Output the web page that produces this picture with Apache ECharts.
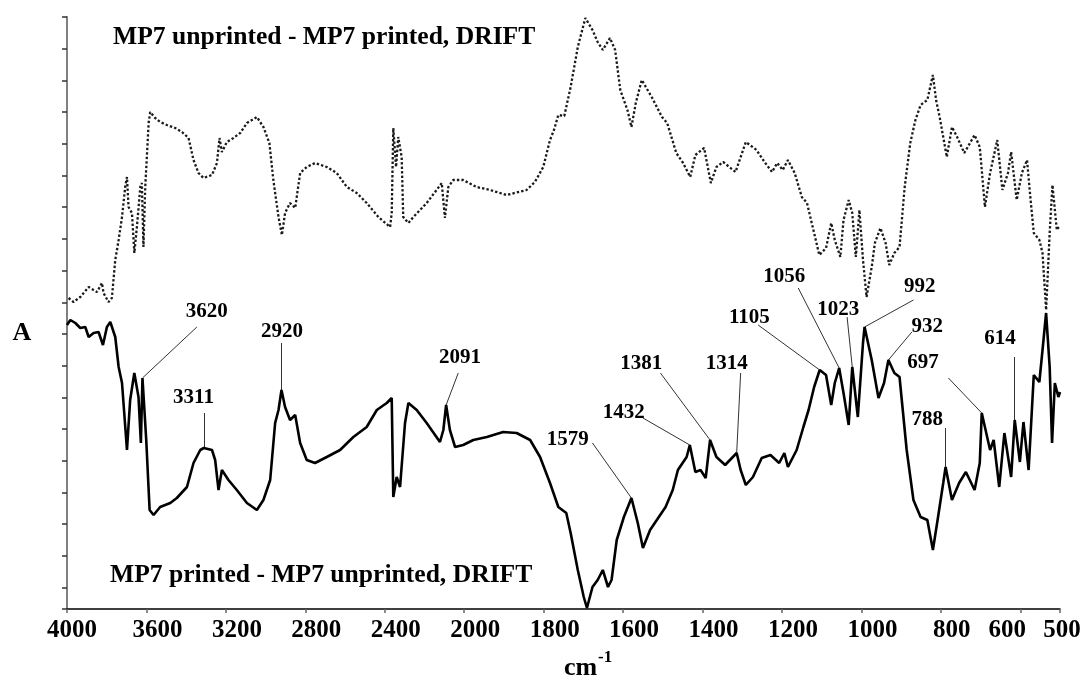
<!DOCTYPE html>
<html>
<head>
<meta charset="utf-8">
<script src="https://cdn.jsdelivr.net/npm/echarts@6/dist/echarts.min.js"></script>
<style>
  html, body { margin: 0; padding: 0; background: #fff; }
  #chart { width: 1085px; height: 678px; }
</style>
</head>
<body>
<div id="chart"></div>
<script>
// DRIFT difference spectra of MP7 (unprinted vs printed), wavenumber in cm-1, absorbance in arbitrary units.

// Upper trace: MP7 unprinted - MP7 printed
const dottedWn = [
  3992,3967,3933,3891,3866,3849,3824,3816,3791,3774,
  3757,3740,3723,3707,3698,3690,3673,3661,3648,3631,
  3623,3615,3606,3589,3581,3556,3531,3497,3455,3421,
  3388,3363,3338,3313,3270,3245,3232,3220,3195,3162,
  3128,3094,3044,3011,2981,2961,2935,2918,2902,2877,
  2851,2826,2793,2751,2692,2642,2591,2541,2491,2432,
  2373,2365,2357,2343,2332,2315,2307,2281,2256,2189,
  2139,2113,2097,2080,2055,2005,1969,1935,1893,1843,
  1822,1801,1784,1774,1763,1748,1732,1714,1695,1677,
  1664,1651,1633,1620,1607,1589,1579,1568,1553,1528,
  1502,1489,1466,1449,1431,1418,1396,1379,1365,1348,
  1317,1291,1264,1242,1225,1212,1198,1185,1168,1150,
  1137,1119,1106,1089,1076,1067,1053,1045,1032,1023,
  1014,1005,996,987,974,966,952,939,930,917,
  904,891,877,864,851,834,820,812,803,785,
  772,759,741,715,702,689,676,658,645,631,
  623,609,596,583,574,566,552,544,535,526,
  519,508,503
];
const dottedAbs = [
  3.11,3.07,3.12,3.22,3.19,3.17,3.26,3.16,3.07,3.11,
  3.49,3.69,3.92,4.22,4.32,4.02,3.96,3.56,3.82,4.22,
  4.26,3.62,4.22,4.86,4.97,4.91,4.87,4.84,4.81,4.77,
  4.71,4.49,4.36,4.31,4.34,4.46,4.71,4.57,4.67,4.71,
  4.76,4.86,4.92,4.82,4.66,4.29,3.92,3.74,3.96,4.06,
  4.01,4.36,4.42,4.46,4.42,4.36,4.22,4.16,4.06,3.92,
  3.82,3.96,4.81,4.42,4.72,4.52,3.92,3.86,3.92,4.06,
  4.19,4.26,3.91,4.22,4.29,4.29,4.22,4.19,4.14,4.19,
  4.27,4.42,4.69,4.79,4.94,4.93,5.22,5.62,5.91,5.79,
  5.67,5.59,5.71,5.59,5.19,4.99,4.82,5.06,5.29,5.12,
  4.92,4.86,4.56,4.46,4.32,4.54,4.61,4.26,4.42,4.47,
  4.37,4.67,4.59,4.46,4.37,4.46,4.39,4.49,4.36,4.12,
  4.06,3.76,3.54,3.61,3.86,3.69,3.52,3.89,4.09,3.96,
  3.52,3.99,3.49,3.12,3.42,3.66,3.81,3.66,3.44,3.56,
  3.62,4.22,4.66,4.89,5.04,5.09,5.34,5.09,4.92,4.52,
  4.82,4.72,4.56,4.74,4.62,4.02,4.36,4.69,4.19,4.36,
  4.57,4.09,4.36,4.49,4.09,3.76,3.69,3.56,2.99,3.76,
  4.24,3.79,3.82
];

// Lower trace: MP7 printed - MP7 unprinted
const solidWn = [
  4000,3983,3958,3933,3908,3891,3866,3841,3819,3799,
  3782,3757,3740,3723,3698,3682,3661,3640,3628,3620,
  3601,3584,3564,3531,3480,3447,3396,3363,3329,3311,
  3270,3254,3237,3220,3187,3145,3094,3044,3011,2977,
  2952,2935,2920,2902,2877,2851,2826,2793,2751,2692,
  2625,2558,2491,2440,2390,2365,2357,2340,2323,2298,
  2281,2239,2189,2122,2105,2091,2072,2046,2005,1977,
  1943,1902,1868,1834,1809,1784,1763,1743,1732,1714,
  1699,1691,1677,1664,1651,1638,1629,1616,1598,1579,
  1563,1550,1532,1510,1493,1475,1462,1440,1432,1418,
  1405,1392,1381,1365,1343,1314,1304,1291,1273,1251,
  1229,1207,1194,1185,1163,1146,1133,1119,1105,1089,
  1076,1067,1056,1045,1032,1023,1009,996,992,974,
  957,943,932,917,904,886,869,851,834,820,
  807,794,788,772,754,737,715,702,697,676,
  667,653,640,623,614,601,592,579,566,552,
  544,535,526,520,513,504,500
];
const solidAbs = [
  2.84,2.89,2.86,2.81,2.82,2.72,2.76,2.77,2.64,2.82,
  2.87,2.72,2.42,2.26,1.59,2.09,2.36,2.12,1.66,2.31,
  1.69,0.99,0.94,1.02,1.06,1.11,1.22,1.46,1.59,1.61,
  1.59,1.49,1.19,1.39,1.29,1.19,1.06,0.99,1.09,1.29,
  1.86,1.99,2.19,2.02,1.89,1.94,1.66,1.49,1.46,1.52,
  1.59,1.72,1.82,1.99,2.06,2.11,1.12,1.32,1.22,1.86,
  2.06,1.99,1.86,1.67,1.79,2.04,1.79,1.62,1.64,1.69,
  1.72,1.77,1.76,1.69,1.52,1.26,1.02,0.96,0.76,0.39,
  0.12,0.01,0.22,0.29,0.39,0.22,0.29,0.69,0.92,1.11,
  0.86,0.61,0.79,0.92,1.02,1.19,1.39,1.52,1.64,1.37,
  1.39,1.31,1.69,1.52,1.44,1.56,1.39,1.24,1.32,1.51,
  1.54,1.46,1.56,1.42,1.59,1.82,1.99,2.22,2.39,2.34,
  2.04,2.26,2.41,2.16,1.84,2.42,1.92,2.66,2.82,2.49,
  2.11,2.26,2.49,2.36,2.32,1.59,1.09,0.92,0.89,0.59,
  0.92,1.26,1.42,1.09,1.26,1.37,1.19,1.46,1.96,1.59,
  1.69,1.22,1.76,1.32,1.89,1.47,1.87,1.39,2.34,2.27,
  2.59,2.96,2.42,1.66,2.26,2.12,2.17
];

// Assigned bands on the lower trace (cm-1)
const peakWn = [3620, 2920, 3311, 2091, 1579, 1432, 1381, 1314, 1105, 1056, 1023, 992, 932, 697, 788, 614];

// Axis tick wavenumbers: 400 cm-1 steps above 2000, 200 cm-1 steps below
const tickLabels = [4000, 3600, 3200, 2800, 2400, 2000, 1800, 1600, 1400, 1200, 1000, 800, 600, 500];

const seriesNames = ['MP7 unprinted - MP7 printed, DRIFT', 'MP7 printed - MP7 unprinted, DRIFT'];

// Where each band label sits: [label wn, label abs, leader start wn, leader start abs]
const labelLayout = [
  [3296, 2.97, 3346, 2.82],
  [2918, 2.77, 2920, 2.66],
  [3363, 2.11, 3311, 1.96],
  [2021, 2.51, 2030, 2.36],
  [1739, 1.69, 1677, 1.66],
  [1598, 1.96, 1550, 1.91],
  [1554, 2.45, 1506, 2.36],
  [1339, 2.45, 1304, 2.36],
  [1282, 2.91, 1260, 2.84],
  [1194, 3.32, 1159, 3.21],
  [1058, 2.99, 1036, 2.92],
  [853, 3.22, 869, 3.09],
  [834, 2.82, 873, 2.77],
  [845, 2.46, 781, 2.31],
  [834, 1.89, 788, 1.81],
  [651, 2.70, 614, 2.52]
];

// Split wavenumber scale: 400 cm-1 per tick step above 2000, 200 cm-1 per step below.
function toAxis(wn) { return wn >= 2000 ? (4000 - wn) / 400 : 5 + (2000 - wn) / 200; }
function toWn(u) { return u <= 5 ? 4000 - 400 * u : 2000 - 200 * (u - 5); }

const dotted = dottedWn.map((w, i) => [toAxis(w), dottedAbs[i]]);
const solid = solidWn.map((w, i) => [toAxis(w), solidAbs[i]]);
function solidAt(w) { return solidAbs[solidWn.indexOf(w)]; }

const leaders = peakWn.map((w, i) => ({
  coords: [[toAxis(labelLayout[i][2]), labelLayout[i][3]], [toAxis(w), solidAt(w)]]
}));
const bandLabels = peakWn.map((w, i) => ({
  name: String(w),
  value: [toAxis(labelLayout[i][0]), labelLayout[i][1]]
}));

const SERIF = "'Liberation Serif', 'Times New Roman', serif";
const tickFont = { fontFamily: SERIF, fontWeight: 'bold', fontSize: 25, color: '#000' };

const chart = echarts.init(document.getElementById('chart'), null, { renderer: 'canvas' });
chart.setOption({
  animation: false,
  backgroundColor: '#fff',
  grid: { left: 67, right: 25, top: 17, bottom: 69, containLabel: false },
  xAxis: {
    type: 'value', min: 0, max: toAxis(tickLabels[tickLabels.length - 1]), interval: 1,
    axisLine: { onZero: false, lineStyle: { color: '#000', width: 1.5 } },
    axisTick: { show: true, length: 4, lineStyle: { color: '#666', width: 1.5 } },
    splitLine: { show: false },
    axisLabel: {
      margin: 9,
      formatter: function (u) {
        const w = Math.round(toWn(u));
        if (tickLabels.indexOf(w) < 0) return '';
        if (w === 4000) return '{a|' + w + '}';
        if (w === 600) return '{c|' + w + '}';
        if (w === 500) return '{d|' + w + '}';
        return '{b|' + w + '}';
      },
      rich: {
        a: Object.assign({ padding: [0, 0, 0, 10] }, tickFont),
        b: Object.assign({ padding: [0, 0, 0, 22] }, tickFont),
        c: Object.assign({ padding: [0, 26, 0, 0] }, tickFont),
        d: Object.assign({ padding: [0, 0, 0, 4] }, tickFont)
      }
    }
  },
  yAxis: [
    {
      type: 'value', min: 0, max: 5.92,
      axisLine: { show: true, onZero: false, lineStyle: { color: '#808080', width: 2 } },
      axisTick: { show: false }, axisLabel: { show: false }, splitLine: { show: false }
    },
    {
      // tick marks counted down from the top of the absorbance axis
      type: 'value', inverse: true, min: 0, max: 5.92, interval: 0.317, position: 'left',
      axisLine: { show: false },
      axisTick: { show: true, length: 5, lineStyle: { color: '#333', width: 1.5 } },
      axisLabel: { show: false }, splitLine: { show: false }
    }
  ],
  series: [
    {
      name: seriesNames[0], type: 'line', data: dotted, showSymbol: false, z: 3,
      lineStyle: { color: '#1a1a1a', width: 2.3, type: [2.4, 2.1] }
    },
    {
      name: seriesNames[1], type: 'line', data: solid, showSymbol: false, z: 3,
      lineStyle: { color: '#000', width: 2.6 }
    },
    {
      type: 'lines', coordinateSystem: 'cartesian2d', data: leaders, silent: true, z: 2,
      lineStyle: { color: '#333', width: 1, opacity: 1, curveness: 0 }
    },
    {
      type: 'scatter', data: bandLabels, symbolSize: 1, silent: true, z: 4,
      itemStyle: { color: 'transparent', opacity: 1 },
      label: {
        show: true, position: 'inside', formatter: '{b}', opacity: 1,
        textBorderWidth: 0,
        fontFamily: SERIF, fontWeight: 'bold', fontSize: 21, color: '#000'
      }
    }
  ],
  graphic: [
    { type: 'text', x: 113, y: 37, style: { text: seriesNames[0], font: 'bold 25.6px ' + SERIF, fill: '#000', align: 'left', verticalAlign: 'middle' } },
    { type: 'text', x: 110, y: 575, style: { text: seriesNames[1], font: 'bold 25.6px ' + SERIF, fill: '#000', align: 'left', verticalAlign: 'middle' } },
    { type: 'text', x: 22, y: 333, style: { text: 'A', font: 'bold 26px ' + SERIF, fill: '#000', align: 'center', verticalAlign: 'middle' } },
    { type: 'text', x: 564, y: 668, style: { text: 'cm', font: 'bold 26px ' + SERIF, fill: '#000', align: 'left', verticalAlign: 'middle' } },
    { type: 'text', x: 598, y: 658, style: { text: '-1', font: 'bold 17px ' + SERIF, fill: '#000', align: 'left', verticalAlign: 'middle' } }
  ]
});
</script>
</body>
</html>
